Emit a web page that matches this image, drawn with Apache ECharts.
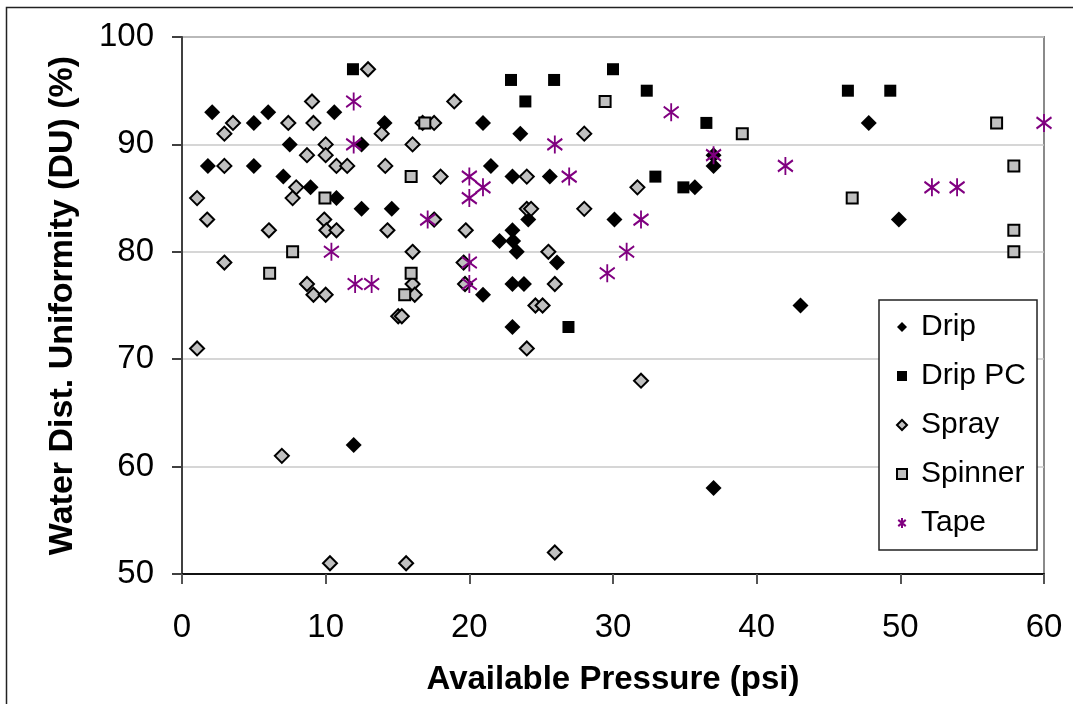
<!DOCTYPE html>
<html>
<head>
<meta charset="utf-8">
<script src="https://cdn.jsdelivr.net/npm/echarts@6/dist/echarts.min.js"></script>
<style>
html,body{margin:0;padding:0;background:#fff;}
#chart{width:1073px;height:704px;}
</style>
</head>
<body>
<div id="chart"></div>
<script>
// ---- data (pressure psi, DU %) ----
var seriesNames = ['Drip', 'Drip PC', 'Spray', 'Spinner', 'Tape'];
var xTicks = [0, 10, 20, 30, 40, 50, 60];
var yTicks = [50, 60, 70, 80, 90, 100];

var drip = [
  [2.1,93],[1.8,88],[5.0,92],[6.0,93],[5.0,88],[7.5,90],[7.05,87],[8.95,86],[10.75,85],
  [12.5,84],[10.6,93],[12.5,90],[14.1,92],[14.6,84],[20.95,92],[23.55,91],[21.5,88],
  [23.0,87],[25.6,87],[24.1,83],[23.0,82],[22.1,81],[23.05,81],[23.3,80],[23.0,77],
  [23.8,77],[20.95,76],[23.0,73],[11.95,62],[26.1,79],[30.1,83],[35.7,86],[37.0,88],
  [37.0,89],[37.0,58],[47.8,92],[49.9,83],[43.05,75]
];
var dripPC = [
  [11.9,97],[22.9,96],[25.9,96],[23.9,94],[30.0,97],[32.35,95],[36.5,92],[32.95,87],
  [34.9,86],[26.9,73],[46.35,95],[49.3,95]
];
var spray = [
  [12.95,97],[9.05,94],[18.95,94],[3.55,92],[7.4,92],[9.15,92],[16.75,92],[17.55,92],
  [2.95,91],[13.9,91],[28.0,91],[10.0,90],[16.05,90],[8.7,89],[10.0,89],[2.95,88],
  [10.75,88],[11.5,88],[14.15,88],[18.0,87],[24.0,87],[7.95,86],[31.7,86],[1.05,85],
  [7.7,85],[24.0,84],[24.3,84],[28.0,84],[1.75,83],[9.9,83],[17.55,83],[6.05,82],
  [10.05,82],[10.75,82],[14.3,82],[19.75,82],[16.05,80],[25.5,80],[2.95,79],[19.6,79],
  [8.7,77],[16.05,77],[19.7,77],[25.95,77],[9.15,76],[10.0,76],[16.2,76],[15.05,74],
  [15.3,74],[24.6,75],[25.1,75],[1.05,71],[24.0,71],[31.95,68],[6.95,61],[10.3,51],
  [15.6,51],[25.95,52]
];
var spinner = [
  [29.45,94],[39.0,91],[56.7,92],[57.9,88],[46.65,85],[57.9,82],[57.9,80],[9.95,85],
  [7.7,80],[6.1,78],[16.9,92],[15.95,87],[15.95,78],[15.5,76]
];
var tape = [
  [11.95,94],[11.95,90],[10.4,80],[12.05,77],[13.2,77],[17.1,83],[20.0,87],[20.95,86],
  [20.0,85],[20.0,79],[20.0,77],[25.95,90],[26.95,87],[34.05,93],[31.95,83],[30.95,80],
  [29.6,78],[37.0,89],[42.0,88],[52.2,86],[53.95,86],[60.0,92]
];

var asterisk = 'path://M6,0L6,16M0,3L12,13M0,13L12,3';
var FONT = '"Liberation Sans", Arial, sans-serif';

var chart = echarts.init(document.getElementById('chart'), null, {renderer: 'canvas'});
var option = {
  animation: false,
  backgroundColor: '#ffffff',
  graphic: [{
    type: 'rect', z: -10, silent: true,
    shape: {x: 6.5, y: 7.5, width: 1100, height: 800},
    style: {fill: 'none', stroke: '#222', lineWidth: 1.5}
  }],
  grid: {
    left: 182, right: 29, top: 37, bottom: 130,
    show: true, borderColor: '#8a8a8a', borderWidth: 2, backgroundColor: 'transparent'
  },
  xAxis: {
    type: 'value', min: 0, max: 60, interval: 10,
    name: 'Available Pressure (psi)', nameLocation: 'middle', nameGap: 89,
    nameTextStyle: {fontFamily: FONT, fontSize: 33, fontWeight: 'bold', color: '#000'},
    axisLine: {show: true, onZero: false, lineStyle: {color: '#111', width: 2}},
    axisTick: {show: true, length: 10, lineStyle: {color: '#555', width: 2}},
    axisLabel: {margin: 37, fontFamily: FONT, fontSize: 33, color: '#000'},
    splitLine: {show: false}
  },
  yAxis: {
    type: 'value', min: 50, max: 100, interval: 10,
    name: 'Water Dist. Uniformity (DU) (%)', nameLocation: 'middle', nameGap: 102, nameRotate: 90,
    nameTextStyle: {fontFamily: FONT, fontSize: 34, fontWeight: 'bold', color: '#000'},
    axisLine: {show: true, onZero: false, lineStyle: {color: '#404040', width: 2}},
    axisTick: {show: true, length: 10, lineStyle: {color: '#404040', width: 2}},
    axisLabel: {margin: 28, fontFamily: FONT, fontSize: 33, color: '#000'},
    splitLine: {show: true, lineStyle: {color: '#c8c8c8', width: 1.5}}
  },
  legend: {
    orient: 'vertical', left: 879, top: 300,
    backgroundColor: '#fff', borderColor: '#222', borderWidth: 1.5,
    padding: [12, 11, 12, 17], itemGap: 19, itemWidth: 10, itemHeight: 10,
    textStyle: {fontFamily: FONT, fontSize: 30, color: '#000', lineHeight: 30, padding: [0, 0, 0, 9]},
    data: [
      {name: 'Drip', icon: 'diamond'},
      {name: 'Drip PC', icon: 'rect'},
      {name: 'Spray', icon: 'diamond'},
      {name: 'Spinner', icon: 'rect'},
      {name: 'Tape', icon: asterisk}
    ]
  },
  series: [
    {name: seriesNames[0], type: 'scatter', data: drip, symbol: 'diamond', symbolSize: 16,
     itemStyle: {color: '#000', opacity: 1}},
    {name: seriesNames[1], type: 'scatter', data: dripPC, symbol: 'rect', symbolSize: 12,
     itemStyle: {color: '#000', opacity: 1}},
    {name: seriesNames[2], type: 'scatter', data: spray, symbol: 'diamond', symbolSize: 14,
     itemStyle: {color: '#c0c0c0', borderColor: '#000', borderWidth: 2, opacity: 1}},
    {name: seriesNames[3], type: 'scatter', data: spinner, symbol: 'rect', symbolSize: 11,
     itemStyle: {color: '#c0c0c0', borderColor: '#000', borderWidth: 2, opacity: 1}},
    {name: seriesNames[4], type: 'scatter', data: tape, symbol: asterisk, symbolSize: [15, 18],
     itemStyle: {color: '#800080', borderColor: '#800080', borderWidth: 2, opacity: 1}}
  ]
};
chart.setOption(option);
</script>
</body>
</html>
